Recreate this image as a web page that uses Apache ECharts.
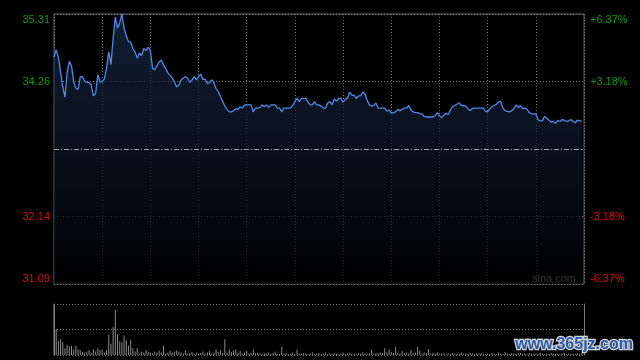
<!DOCTYPE html>
<html><head><meta charset="utf-8">
<style>html,body{margin:0;padding:0;background:#000;}#c{width:640px;height:360px;}</style>
<script src="https://cdn.jsdelivr.net/npm/echarts@6/dist/echarts.min.js"></script>
</head><body><div id="c"></div>
<script>
const prices = [34.64,34.75,34.64,34.41,34.17,34.01,34.40,34.57,34.50,34.25,
34.15,34.13,34.33,34.33,34.26,34.24,34.24,34.20,34.03,34.07,
34.36,34.25,34.25,34.30,34.46,34.72,34.52,34.93,35.26,35.09,
35.17,35.31,35.09,34.97,34.88,34.87,34.77,34.72,34.62,34.70,
34.66,34.77,34.74,34.79,34.74,34.46,34.44,34.50,34.56,34.59,
34.51,34.46,34.39,34.35,34.31,34.25,34.17,34.20,34.28,34.31,
34.33,34.31,34.24,34.28,34.33,34.28,34.33,34.37,34.29,34.29,
34.22,34.24,34.28,34.24,34.14,34.10,34.02,33.95,33.87,33.82,
33.78,33.78,33.80,33.83,33.82,33.86,33.84,33.89,33.89,33.89,
33.89,33.78,33.84,33.84,33.85,33.89,33.86,33.89,33.85,33.89,
33.89,33.89,33.84,33.84,33.78,33.84,33.84,33.84,33.84,33.88,
33.94,33.99,33.94,33.99,33.99,33.99,33.93,33.89,33.89,33.94,
33.89,33.89,33.87,33.84,33.84,33.92,33.94,33.89,33.98,33.95,
33.99,33.99,33.93,33.98,33.99,34.09,34.04,34.04,33.99,34.03,
34.03,34.09,34.06,33.96,33.89,33.87,33.88,33.92,33.84,33.84,
33.84,33.84,33.79,33.81,33.76,33.77,33.78,33.82,33.80,33.82,
33.84,33.84,33.88,33.81,33.78,33.77,33.77,33.75,33.75,33.71,
33.70,33.70,33.70,33.70,33.72,33.77,33.72,33.69,33.73,33.76,
33.74,33.81,33.86,33.88,33.90,33.92,33.88,33.88,33.87,33.83,
33.80,33.83,33.84,33.84,33.84,33.84,33.84,33.79,33.78,33.83,
33.86,33.88,33.90,33.94,33.94,33.84,33.80,33.79,33.78,33.80,
33.83,33.89,33.85,33.88,33.83,33.84,33.82,33.77,33.75,33.75,
33.75,33.66,33.64,33.64,33.71,33.68,33.65,33.62,33.63,33.60,
33.65,33.63,33.66,33.65,33.63,33.64,33.66,33.63,33.61,33.65,
33.64,33.64];
const volumes = [100,51,27,31,25,13,20,17,18,11,
18,11,9,6,5,7,10,5,11,7,
13,10,11,5,10,40,22,55,88,40,
27,25,38,29,18,29,13,7,13,3,
7,5,10,7,5,3,7,5,9,5,
18,3,5,9,5,7,9,7,5,3,
9,3,4,6,3,5,3,4,7,3,
5,8,3,5,11,6,10,4,31,5,
11,6,9,11,4,8,3,5,8,3,
4,11,3,4,3,2,4,3,5,2,
4,7,3,2,16,3,4,2,3,5,
2,11,3,2,4,3,2,3,5,2,
3,4,2,3,5,2,3,2,4,3,
2,3,5,2,3,4,2,3,2,4,
3,5,3,2,4,11,3,4,3,5,
4,13,5,11,6,4,16,5,3,8,
4,5,3,10,4,5,16,9,3,5,
4,12,3,4,3,5,2,3,4,2,
3,2,4,3,2,3,5,2,3,2,
4,3,2,3,2,4,3,2,3,2,
4,3,2,5,3,2,6,3,2,4,
3,2,3,4,2,3,2,4,3,2,
3,2,4,3,2,3,2,4,3,2,
3,2,3,4,2,3,2,3,2,3,
2,4];
const priceLabels = ['31.09','32.14','','34.26','35.31'];
const pctLabels = ['-6.37%','-3.18%','','+3.18%','+6.37%'];
const priceMin = 31.09, priceMax = 35.31, prevClose = 33.20;
const minutes = 242;

const chart = echarts.init(document.getElementById('c'), null, {renderer:'canvas'});
const upColor = '#0c9a0c', downColor = '#d41010';
const gridLine = {show:true, lineStyle:{color:'#7a7a7a', type:[1,2], width:1}};
const labColor = (v) => (parseFloat(v) > prevClose ? upColor : downColor);

const option = {
  backgroundColor:'#000',
  animation:false,
  grid:[
    {left:54, top:14, width:530, height:270, show:true, borderColor:'#636363', borderWidth:1, backgroundColor:'transparent'},
    {left:54, top:304, width:530, height:51}
  ],
  xAxis:[
    {type:'value', gridIndex:0, min:0, max:minutes, interval:22, axisLine:{show:false}, axisTick:{show:false}, axisLabel:{show:false}, splitLine:gridLine},
    {type:'value', gridIndex:1, min:0, max:minutes, interval:22, axisLine:{show:false}, axisTick:{show:false}, axisLabel:{show:false}, splitLine:{show:false}}
  ],
  yAxis:[
    {type:'value', gridIndex:0, position:'left', min:priceMin, max:priceMax, interval:1.055,
     axisLine:{show:false}, axisTick:{show:false}, splitLine:gridLine,
     axisLabel:{show:true, margin:4, fontSize:11, fontFamily:'Liberation Sans, Arial, sans-serif',
       formatter:(v,i)=>priceLabels[i]||'', color:labColor,
       verticalAlignMinLabel:'bottom', verticalAlignMaxLabel:'top'}},
    {type:'value', gridIndex:0, position:'right', min:priceMin, max:priceMax, interval:1.055,
     axisLine:{show:false}, axisTick:{show:false}, splitLine:{show:false},
     axisLabel:{show:true, margin:6, fontSize:11, fontFamily:'Liberation Sans, Arial, sans-serif',
       formatter:(v,i)=>pctLabels[i]||'', color:labColor,
       verticalAlignMinLabel:'bottom', verticalAlignMaxLabel:'top'}},
    {type:'value', gridIndex:1, position:'left', min:0, max:100, interval:50,
     axisLine:{show:true, lineStyle:{color:'#7a7a7a'}}, axisTick:{show:false}, axisLabel:{show:false}, splitLine:gridLine},
    {type:'value', gridIndex:1, position:'right', min:0, max:100, interval:50,
     axisLine:{show:true, lineStyle:{color:'#7a7a7a'}}, axisTick:{show:false}, axisLabel:{show:false}, splitLine:{show:false}}
  ],
  series:[
    {type:'line', xAxisIndex:0, yAxisIndex:0, data:prices.map((p,i)=>[i,p]), symbol:'none',
     lineStyle:{color:'#5289e6', width:1.3},
     areaStyle:{origin:'start', color:new echarts.graphic.LinearGradient(0,0,0,1,[
       {offset:0,color:'#1a2b4c'},{offset:0.5,color:'#0d1628'},{offset:1,color:'#000000'}])},
     markLine:{silent:true, symbol:'none', label:{show:false}, animation:false,
       lineStyle:{color:'#a8a8a8', type:[5,2,1,2], width:1}, data:[{yAxis:prevClose}]}},
    {type:'bar', xAxisIndex:1, yAxisIndex:2, data:volumes.map((v,i)=>[i,v]), barWidth:1,
     itemStyle:{color:'#8a8a8a'}}
  ],
  graphic:[
    {type:'text', left:532, top:273, style:{text:'sina.com', fill:'#a0a0a0', fontSize:11, fontFamily:'Liberation Sans, Arial, sans-serif'}},
    {type:'text', left:514, top:335, z:100, style:{text:'www.365jz.com', fill:'#2d5ca6', fontSize:16, fontWeight:'bold', fontFamily:'Liberation Sans, Arial, sans-serif', stroke:'#d0d4dc', lineWidth:2.5}}
  ]
};
chart.setOption(option);
</script>
</body></html>
